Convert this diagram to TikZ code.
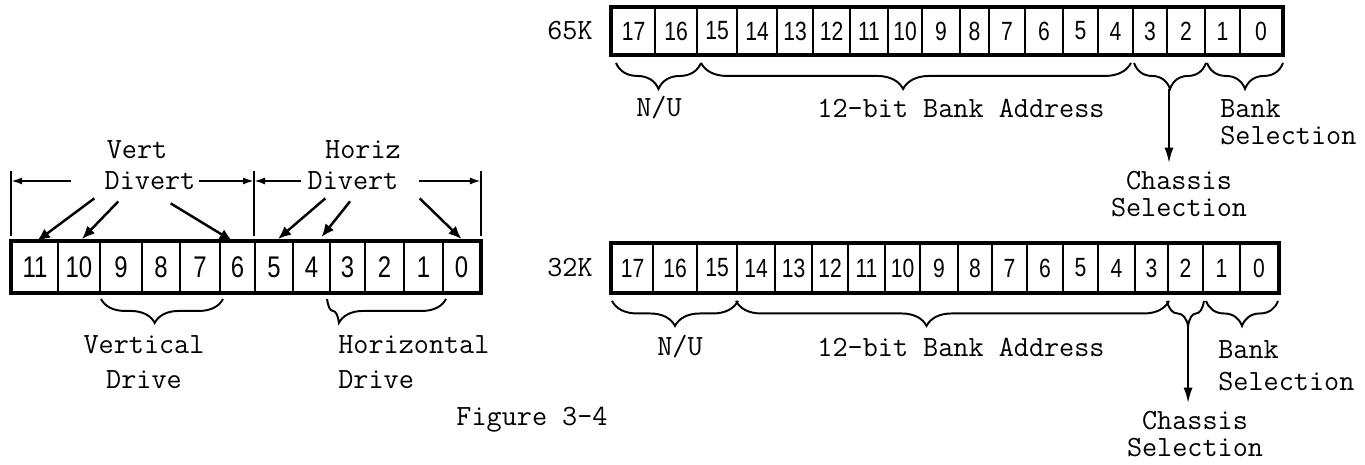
\documentclass[tikz,border=0pt]{standalone}
\usepackage{fontspec}
\newfontfamily\digitfont{Liberation Sans}[FakeStretch=0.8]
\newcommand\lblfont[1]{\ttfamily\addfontfeature{FakeBold=3}\fontsize{16.7}{#1}\selectfont}
\usetikzlibrary{arrows.meta, positioning, calc, decorations.pathreplacing}

\begin{document}
\begin{tikzpicture}[x=0.02cm, y=-0.02cm,
    lbl/.style={font=\lblfont{16}, inner sep=0pt},
    bitcell/.style={draw, line width=1.1pt, inner sep=0pt,
                    font=\digitfont\fontsize{15}{16}\selectfont},
    regbox/.style={draw, line width=1.8pt},
    brc/.style={decorate, line width=1.1pt,
                decoration={brace, mirror, amplitude=#1}},
    brc/.default=0.5cm,
    ptr/.style={-{Latex[length=2.6mm, width=2.2mm]}, line width=1.4pt},
    dimarr/.style={-{Latex[length=2.2mm, width=1.4mm]}, line width=1.1pt},
    >={Latex[length=3.2mm, width=1.8mm]},
]
\useasboundingbox (0,0) rectangle (1365,465);
% --- divert register (12 bits) ----------------------------------------------
\begin{scope}[bitcell/.append style={font=\digitfont\fontsize{17}{18}\selectfont}]
  \foreach \b/\l/\r in {11/12/58, 10/58/100, 9/100/142, 8/142/180, 7/180/220,
                        6/220/255, 5/255/293, 4/293/330, 3/330/365, 2/365/404,
                        1/404/443, 0/443/480}
    \node[bitcell, minimum width={(\r-\l)*0.02cm}, minimum height=1cm]
      (v\b) at ({(\l+\r)/2},267) {\b};
  \draw[regbox] (v11.north west) rectangle (v0.south east);
  \node[lbl] (vlab) at (137,150) {Vert};
  \node[lbl] (vdiv) at (150,181) {Divert};
  \node[lbl] (hlab) at (363,150) {Horiz};
  \node[lbl] (hdiv) at (353,181) {Divert};
  \foreach \n/\a in {v11/north west, v5/north west, v0/north east}
    \draw[line width=1.1pt] ([shift={(0,-5)}]\n.\a) -- ++(0,-65);
  \draw[dimarr] ([shift={(-33,0)}]vdiv.west) -- (vdiv.west -| v11.west);
  \draw[dimarr] ([shift={(3,0)}]vdiv.east) -- (vdiv.east -| v5.west);
  \draw[dimarr] ([shift={(-6,0)}]hdiv.west) -- (hdiv.west -| v5.west);
  \draw[dimarr] ([shift={(20,0)}]hdiv.east) -- (hdiv.east -| v0.east);
  \draw[ptr] ([shift={(-10,8)}]vdiv.south west) -- ([shift={(2,0)}]v11.north);
  \draw[ptr] ([shift={(14,11)}]vdiv.south west) -- ([shift={(3,-2)}]v10.north);
  \draw[ptr] ([shift={(-25,13)}]vdiv.south east) -- ([shift={(-5,0)}]v6.north);
  \draw[ptr] ([shift={(18,8)}]hdiv.south west) -- ([shift={(4,-2)}]v5.north);
  \draw[ptr] ([shift={(-3,11)}]hdiv.south) -- ([shift={(10,-4)}]v4.north);
  \draw[ptr] ([shift={(21,8)}]hdiv.south east) -- ([shift={(0,-2)}]v0.north);
  \draw[brc=0.48cm, decoration={aspect=0.44}]
    ([shift={(2,6)}]v9.south west) -- ([shift={(2,6)}]v7.south east);
  \draw[brc=0.48cm, decoration={aspect=0.1}]
    ([shift={(-2,6)}]v3.south west) -- ([shift={(2,6)}]v1.south east);
  \node[lbl, font=\lblfont{19.8}, align=center] (vdrv) at (144,362.5) {Vertical\\Drive};
  \node[lbl, font=\lblfont{19.8}, align=left, anchor=west] (hdrv) at (338,362.5) {Horizontal\\Drive};
\end{scope}
\node[lbl] (fig) at (532,420) {Figure 3-4};
% --- 65K address ------------------------------------------------------------
\begin{scope}
  \node[lbl] (ka) at (570,31) {65K};
  \foreach \b/\l/\r in {17/612/655, 16/655/697, 15/697/737, 14/737/777,
                        13/777/813, 12/813/850, 11/850/888, 10/888/922,
                        9/922/960, 8/960/989, 7/989/1025, 6/1025/1063,
                        5/1063/1098, 4/1098/1133, 3/1133/1167, 2/1167/1205,
                        1/1205/1240, 0/1240/1282}
    \node[bitcell, minimum width={(\r-\l)*0.02cm}, minimum height=0.92cm]
      (a\b) at ({(\l+\r)/2},31) {\b};
  \draw[regbox] (a17.north west) rectangle (a0.south east);
  \draw[brc=0.52cm] ([shift={(5,8)}]a17.south west) -- ([shift={(3,8)}]a16.south east);
  \draw[brc=0.52cm, decoration={aspect=0.47}]
    ([shift={(5,8)}]a15.south west) -- ([shift={(-3,8)}]a4.south east);
  \draw[brc=0.52cm] ([shift={(2,8)}]a3.south west) -- ([shift={(0,8)}]a2.south east);
  \draw[brc=0.52cm] ([shift={(3,8)}]a1.south west) -- ([shift={(0,8)}]a0.south east);
  \node[lbl] (nua) at (659,108) {N/U};
  \node[lbl] (adra) at (961,108) {12-bit Bank Address};
  \node[lbl, font=\lblfont{15.6}, align=left, anchor=west] (bka) at (1220,122) {Bank\\Selection};
  \node[lbl, font=\lblfont{15.6}, align=center] (cha) at (1179,194) {Chassis\\Selection};
  \coordinate (tipa) at ($(a3.south west)!0.5!(a2.south east)+(0,34)$);
  \draw[->, line width=1.4pt, shorten >=4pt] (tipa) -- (tipa |- cha.north);
\end{scope}
% --- 32K address ------------------------------------------------------------
\begin{scope}
  \node[lbl] (kb) at (570,268) {32K};
  \foreach \b/\l/\r in {17/612/653, 16/653/697, 15/697/737, 14/737/775,
                        13/775/812, 12/812/848, 11/848/885, 10/885/920,
                        9/920/958, 8/958/992, 7/992/1027, 6/1027/1063,
                        5/1063/1098, 4/1098/1135, 3/1135/1168, 2/1168/1203,
                        1/1203/1240, 0/1240/1278}
    \node[bitcell, minimum width={(\r-\l)*0.02cm}, minimum height=0.96cm]
      (b\b) at ({(\l+\r)/2},268) {\b};
  \draw[regbox] (b17.north west) rectangle (b0.south east);
  \draw[brc] ([shift={(1,8)}]b17.south west) -- ([shift={(0,8)}]b15.south east);
  \draw[brc, decoration={aspect=0.44}]
    ([shift={(0,8)}]b14.south west) -- ([shift={(0,8)}]b3.south east);
  \draw[brc, decoration={aspect=0.57}]
    ([shift={(0,8)}]b2.south west) -- ([shift={(0,8)}]b2.south east);
  \draw[brc] ([shift={(4,8)}]b1.south west) -- ([shift={(-1,8)}]b0.south east);
  \node[lbl] (nub) at (680,347) {N/U};
  \node[lbl] (adrb) at (961,347) {12-bit Bank Address};
  \node[lbl, font=\lblfont{18.1}, align=left, anchor=west] (bkb) at (1218,366) {Bank\\Selection};
  \node[lbl, font=\lblfont{15.6}, align=center] (chb) at (1195,434) {Chassis\\Selection};
  \coordinate (tipb) at ($(b2.south west)!0.57!(b2.south east)+(0,33)$);
  \draw[->, line width=1.4pt, shorten >=4pt] (tipb) -- (tipb |- chb.north);
\end{scope}
\end{tikzpicture}
\end{document}
